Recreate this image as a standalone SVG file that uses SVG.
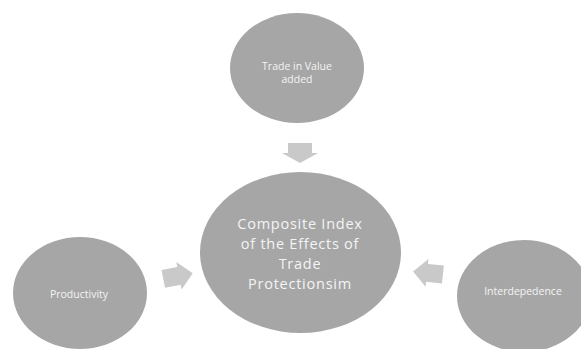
<svg xmlns="http://www.w3.org/2000/svg" width="581" height="349" viewBox="0 0 581 349">
<style>
.node{fill:#a6a6a6}
.arrow{fill:#c9c9c9}
text{font-family:"Open Sans","Noto Sans","Liberation Sans",sans-serif;fill:#f4f4f4;text-anchor:middle}
.small{font-size:10.5px}
.big{font-size:14.5px;letter-spacing:0.75px}
</style>
<rect width="581" height="349" fill="#ffffff"/>
<g id="connectors">
<path class="arrow" d="M288,143 H312 V153 H318 L300,163 L282,153 H288 Z"/>
<path class="arrow" transform="translate(178,276) rotate(-11)" d="M-15,-9 H1 V-14 L15,0 L1,14 V9 H-15 Z"/>
<path class="arrow" transform="translate(428,273) rotate(186)" d="M-15,-9 H1 V-14 L15,0 L1,14 V9 H-15 Z"/>
</g>
<g id="node-top">
<ellipse class="node" cx="297" cy="68" rx="67" ry="55"/>
<text class="small" x="297" y="70">Trade in Value</text>
<text class="small" x="297" y="83">added</text>
</g>
<g id="node-center">
<ellipse class="node" cx="300.5" cy="252.5" rx="100.5" ry="80.5"/>
<text class="big" x="300" y="229">Composite Index</text>
<text class="big" x="300" y="249">of the Effects of</text>
<text class="big" x="300" y="269">Trade</text>
<text class="big" x="300" y="289">Protectionsim</text>
</g>
<g id="node-left">
<ellipse class="node" cx="80" cy="293" rx="67" ry="56"/>
<text class="small" x="79" y="298">Productivity</text>
</g>
<g id="node-right">
<ellipse class="node" cx="524" cy="296" rx="67" ry="56"/>
<text class="small" x="523" y="295">Interdepedence</text>
</g>
</svg>
